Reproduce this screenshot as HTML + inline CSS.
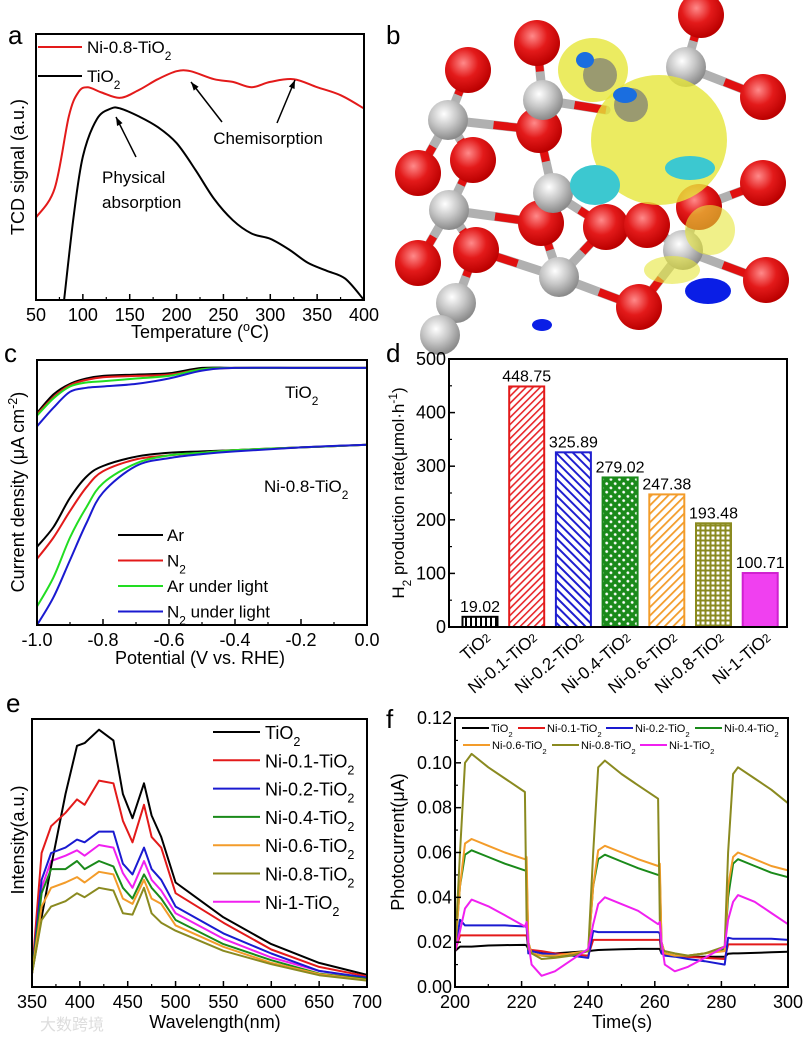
<!DOCTYPE html>
<html><head><meta charset="utf-8"><style>
html,body{margin:0;padding:0;background:#fff}
svg{display:block;font-family:"Liberation Sans","Noto Sans CJK SC",sans-serif}
</style></head><body>
<svg id="fig" width="812" height="1041" viewBox="0 0 812 1041" xmlns="http://www.w3.org/2000/svg">
<defs>
<pattern id="pBlack" width="5" height="10" patternUnits="userSpaceOnUse"><rect width="5" height="10" fill="#fff"/><rect width="2" height="10" fill="#000"/></pattern>
<pattern id="pRed" width="5" height="5" patternUnits="userSpaceOnUse" patternTransform="rotate(45)"><rect width="5" height="5" fill="#fff"/><rect width="1.6" height="5" fill="#e8262a"/></pattern>
<pattern id="pBlue" width="6" height="6" patternUnits="userSpaceOnUse" patternTransform="rotate(-45)"><rect width="6" height="6" fill="#fff"/><rect width="2" height="6" fill="#1f1fd0"/></pattern>
<pattern id="pGreen" width="6" height="6" patternUnits="userSpaceOnUse" patternTransform="rotate(45)"><rect width="6" height="6" fill="#1a8a1a"/><circle cx="3" cy="3" r="1.4" fill="#fff"/></pattern>
<pattern id="pOrange" width="6" height="6" patternUnits="userSpaceOnUse" patternTransform="rotate(45)"><rect width="6" height="6" fill="#fff"/><rect width="1.8" height="6" fill="#f39c2a"/></pattern>
<pattern id="pOlive" width="5" height="5" patternUnits="userSpaceOnUse"><rect width="5" height="5" fill="#8a8a20"/><rect x="1.5" y="1.5" width="3" height="3" fill="#fff"/></pattern>
<radialGradient id="gO" cx="40%" cy="35%" r="65%"><stop offset="0" stop-color="#ff8a8a"/><stop offset="0.5" stop-color="#e31a1a"/><stop offset="1" stop-color="#b00"/></radialGradient>
<radialGradient id="gTi" cx="40%" cy="35%" r="65%"><stop offset="0" stop-color="#fff"/><stop offset="0.5" stop-color="#c8c8c8"/><stop offset="1" stop-color="#8a8a8a"/></radialGradient>
</defs>
<g id="panelB"></g>
<g id="root"></g>
</svg>
<script>
// ---------- data ----------
const aTempRed = [50,70,85,95,105,120,140,160,180,200,215,240,260,280,300,325,350,375,400];
const aValRed  = [31,42,69,78,80,78,76,79,83,86,86,83,82,80,82,83,80,77,72];
const aTempBlk = [80,90,100,115,130,140,160,180,200,220,240,260,280,300,320,340,360,380,400];
const aValBlk  = [0,31,54,68,72,72,69,65,59,49,38,30,25,23,19,14,11,8,0];

const cPot = [-1,-0.95,-0.9,-0.85,-0.8,-0.7,-0.6,-0.5,-0.4,-0.2,0];
const cTiAr   = [80,87,91,93,94,94.5,95,97,97,97,97];
const cTiN2   = [79.5,86,90.5,92.5,93.5,94,94.5,96.5,97,97,97];
const cTiArL  = [79,85.5,90,91.5,92,93,94,96.5,97,97,97];
const cTiN2L  = [75,82,88,89.5,90,91,93,96,97,97,97];
const cNiAr   = [29.5,37,48,56,60,63.5,65,65.5,66,67,68];
const cNiN2   = [25,33,43,52,58,62.5,64,65,66,67,68];
const cNiArL  = [7,18,33,44.5,53.5,61,64,65,66,67,68];
const cNiN2L  = [0,10.5,24.5,38.5,50,60,63,64.5,65.5,67,68];

const dCats = ["TiO2","Ni-0.1-TiO2","Ni-0.2-TiO2","Ni-0.4-TiO2","Ni-0.6-TiO2","Ni-0.8-TiO2","Ni-1-TiO2"];
const dVals = [19.02,448.75,325.89,279.02,247.38,193.48,100.71];
const dTicks = [0,100,200,300,400,500];

const eWl = [350,360,370,385,397,405,420,435,445,455,467,475,485,500,550,600,650,700];
const eTi  = [5,26,45,72,90,91,96,92,72,63,76,64,56,39,26,16,9,4.5];
const e01  = [5,50,60,65,70,68,77,76,62,54,68,56,52,35,24,14,7.5,4];
const e02  = [5,40,50,52,55,54,58,58,46,42,52,44,40,30,20,12.5,6,3.5];
const e04  = [5,35,44,44,47,44,47,45,37,33,42,37,33,25,16,10,5,3];
const e06  = [5,30,37,39,41,39,43,42,33,31,40,33,31,23,15,9,4.8,2.6];
const e08  = [5,25,30,32,35,33.5,37,36,27.5,27,37,27.5,24,21,13.5,8.5,4.4,2.4];
const e1   = [5,37,47,49,51,49,53,52,42.5,37,47,40,36,27.5,18,11,6,3.3];

const fT = [200,201.5,203,205,210,215,221,221.5,222,223,226,230,235,240,241.5,243,245,250,255,261,261.5,262,263,266,270,275,281,282,283.5,285,290,295,300];
const fTi = [0.016,0.018,0.018,0.018,0.0185,0.0187,0.0188,0.0185,0.017,0.016,0.0155,0.015,0.0155,0.016,0.0163,0.0165,0.0166,0.0168,0.017,0.017,0.017,0.015,0.0145,0.014,0.0135,0.0135,0.0135,0.0148,0.015,0.015,0.0152,0.0155,0.0157];
const f01 = [0.016,0.023,0.023,0.023,0.023,0.023,0.023,0.023,0.017,0.0165,0.016,0.015,0.0145,0.014,0.021,0.021,0.021,0.021,0.021,0.021,0.021,0.015,0.0145,0.014,0.0135,0.013,0.0125,0.019,0.019,0.019,0.019,0.019,0.019];
const f02 = [0.016,0.03,0.0275,0.0275,0.0275,0.0275,0.027,0.027,0.015,0.016,0.015,0.0145,0.014,0.013,0.025,0.0245,0.0245,0.0245,0.0245,0.0245,0.024,0.015,0.014,0.0135,0.0125,0.0115,0.010,0.022,0.0215,0.0215,0.0215,0.0215,0.021];
const f04 = [0.016,0.045,0.059,0.061,0.058,0.055,0.052,0.052,0.02,0.015,0.014,0.0135,0.015,0.016,0.045,0.057,0.059,0.056,0.053,0.050,0.05,0.02,0.015,0.014,0.014,0.015,0.017,0.04,0.055,0.057,0.054,0.051,0.049];
const f06 = [0.016,0.045,0.064,0.066,0.063,0.060,0.057,0.058,0.02,0.015,0.014,0.014,0.015,0.016,0.045,0.061,0.063,0.060,0.057,0.054,0.055,0.02,0.015,0.014,0.014,0.015,0.016,0.045,0.058,0.060,0.057,0.054,0.052];
const f08 = [0.016,0.06,0.100,0.104,0.098,0.093,0.087,0.03,0.017,0.015,0.0125,0.013,0.014,0.016,0.06,0.098,0.101,0.095,0.090,0.084,0.03,0.017,0.016,0.015,0.014,0.015,0.018,0.06,0.095,0.098,0.093,0.088,0.082];
const f1  = [0.016,0.025,0.035,0.039,0.036,0.032,0.027,0.029,0.02,0.01,0.005,0.007,0.012,0.017,0.028,0.037,0.040,0.037,0.034,0.028,0.029,0.02,0.01,0.007,0.009,0.013,0.018,0.03,0.038,0.041,0.038,0.033,0.028];
const fTicks = [0,0.02,0.04,0.06,0.08,0.10,0.12];

// ---------- helpers ----------
const NS="http://www.w3.org/2000/svg";
const root=document.getElementById('root');
function el(tag,attrs,parent,text){const e=document.createElementNS(NS,tag);for(const k in attrs)e.setAttribute(k,attrs[k]);if(text!==undefined)e.innerHTML=text;(parent||root).appendChild(e);return e;}
function lin(d0,d1,r0,r1){return v=>r0+(v-d0)/(d1-d0)*(r1-r0);}
function grp(name){const g=el('g',{});return g;}
function line(g,xs,ys,X,Y,color,name,smooth){
  const P=xs.map((x,i)=>[X(x),Y(ys[i])]);
  let d='M'+P[0][0].toFixed(1)+','+P[0][1].toFixed(1);
  for(let i=1;i<P.length;i++){
    if(smooth){const p0=P[Math.max(0,i-2)],p1=P[i-1],p2=P[i],p3=P[Math.min(P.length-1,i+1)];
      const c1=[p1[0]+(p2[0]-p0[0])/6,p1[1]+(p2[1]-p0[1])/6],c2=[p2[0]-(p3[0]-p1[0])/6,p2[1]-(p3[1]-p1[1])/6];
      d+='C'+c1[0].toFixed(1)+','+c1[1].toFixed(1)+' '+c2[0].toFixed(1)+','+c2[1].toFixed(1)+' '+p2[0].toFixed(1)+','+p2[1].toFixed(1);}
    else d+='L'+P[i][0].toFixed(1)+','+P[i][1].toFixed(1);
  }
  const p=el('path',{d:d,fill:'none',stroke:color,'stroke-width':2,'stroke-linejoin':'round'},g);
  
  
  return p;
}
function frame(g,x0,y0,x1,y1){el('rect',{x:x0,y:y0,width:x1-x0,height:y1-y0,fill:'none',stroke:'#000','stroke-width':2},g);}
function xticks(g,ticks,X,yb,minor,labels,fs){
  ticks.forEach((t,i)=>{const x=X(t);el('line',{x1:x,x2:x,y1:yb,y2:yb-6,stroke:'#000','stroke-width':1.5},g);
    if(labels){const tx=el('text',{x:x,y:yb+21,'text-anchor':'middle','font-size':fs||18},g,labels[i]);}
    if(minor&&i<ticks.length-1){const m=X((t+ticks[i+1])/2);el('line',{x1:m,x2:m,y1:yb,y2:yb-3,stroke:'#000','stroke-width':1.2},g);}});
}
function yticks(g,ticks,Y,xl,labels,fs){
  ticks.forEach((t,i)=>{const y=Y(t);el('line',{x1:xl,x2:xl+6,y1:y,y2:y,stroke:'#000','stroke-width':1.5},g);
    const tx=el('text',{x:xl-3,y:y+6,'text-anchor':'end','font-size':fs||18},g,labels[i]);
    if(i<ticks.length-1){const m=Y((t+ticks[i+1])/2);el('line',{x1:xl,x2:xl+3,y1:m,y2:m,stroke:'#000','stroke-width':1.2},g);}});
}
function txt(g,x,y,s,fs,name,extra){const a=Object.assign({x:x,y:y,'font-size':fs},extra||{});const t=el('text',a,g,s);return t;}
function vtitle(g,x,y,s,fs,name){return txt(g,0,0,s,fs,name,{transform:`translate(${x},${y}) rotate(-90)`,'text-anchor':'middle'});}
const sub=s=>`<tspan baseline-shift="sub" font-size="0.7em">${s}</tspan>`;
const sup=s=>`<tspan baseline-shift="super" font-size="0.7em">${s}</tspan>`;

// ---------- panel a ----------
{const g=grp('panel-a');
 const X=lin(50,400,36,364),Y=lin(0,100,300,34);
 line(g,aTempRed,aValRed,X,Y,'#e31a1a','series-ni-0.8-tio2',true);
 line(g,aTempBlk,aValBlk,X,Y,'#000','series-tio2',true);
 frame(g,36,34,364,300);
 xticks(g,[50,100,150,200,250,300,350,400],X,300,true,['50','100','150','200','250','300','350','400'],18);
 txt(g,200,338,'Temperature ('+sup('o')+'C)',18,'x-axis-title',{'text-anchor':'middle'});
 vtitle(g,24,167,'TCD signal (a.u.)',18,'y-axis-title');
 txt(g,8,44,'a',26,'panel-label');
 el('line',{x1:38,x2:82,y1:47,y2:47,stroke:'#e31a1a','stroke-width':2},g);
 txt(g,87,53,'Ni-0.8-TiO'+sub('2'),17,'legend-entry-ni-0.8');
 el('line',{x1:38,x2:82,y1:76,y2:76,stroke:'#000','stroke-width':2},g);
 txt(g,87,82,'TiO'+sub('2'),17,'legend-entry-tio2');
 txt(g,268,144,'Chemisorption',17,'annotation-chemisorption',{'text-anchor':'middle'});
 txt(g,102,183,'Physical',17,'annotation-physical');
 txt(g,102,208,'absorption',17,'annotation-absorption');
 [[222,122,191,82],[277,123,295,80],[136,157,116,117]].forEach(a=>{
   const l=el('line',{x1:a[0],y1:a[1],x2:a[2],y2:a[3],stroke:'#000','stroke-width':1.5},g);
   const ang=Math.atan2(a[3]-a[1],a[2]-a[0]),s=9;
   el('polygon',{points:`${a[2]},${a[3]} ${a[2]-s*Math.cos(ang-0.35)},${a[3]-s*Math.sin(ang-0.35)} ${a[2]-s*Math.cos(ang+0.35)},${a[3]-s*Math.sin(ang+0.35)}`,fill:'#000'},g);
 });
}

// ---------- panel b (structure illustration) ----------
{const g=document.getElementById('panelB');
 const O=[[701,15],[537,43],[468,70],[539,130],[473,160],[541,223],[476,250],[606,227],[763,97],[763,183],[699,207],[766,280],[639,307],[418,173],[418,263],[647,225]];
 const T=[[448,120],[543,100],[449,210],[553,193],[559,277],[456,303],[686,67],[683,250],[440,335]];
 const B=[[448,120,468,70],[448,120,539,130],[448,120,473,160],[448,120,418,173],[543,100,537,43],[543,100,539,130],[543,100,606,110],[449,210,473,160],[449,210,476,250],[449,210,418,263],[449,210,541,223],[553,193,539,130],[553,193,541,223],[553,193,606,227],[559,277,476,250],[559,277,541,223],[559,277,639,307],[559,277,606,227],[456,303,476,250],[456,303,430,340],[686,67,701,15],[686,67,763,97],[683,250,763,280],[683,250,699,207],[683,250,639,307],[683,250,647,225],[699,207,763,183]];
 B.forEach(b=>{el('line',{x1:b[0],y1:b[1],x2:b[2],y2:b[3],stroke:'#b0b0b0','stroke-width':9,'stroke-linecap':'round'},g);
   el('line',{x1:(b[0]+b[2])/2,y1:(b[1]+b[3])/2,x2:b[2],y2:b[3],stroke:'#e01010','stroke-width':8},g);});
 O.forEach(o=>el('circle',{cx:o[0],cy:o[1],r:23,fill:'url(#gO)'},g));
 T.forEach(t=>el('circle',{cx:t[0],cy:t[1],r:20,fill:'url(#gTi)'},g));
 el('ellipse',{cx:659,cy:140,rx:68,ry:65,fill:'#e6e63a','fill-opacity':0.8},g);
 el('ellipse',{cx:593,cy:70,rx:35,ry:32,fill:'#e6e63a','fill-opacity':0.8},g);
 el('ellipse',{cx:710,cy:230,rx:25,ry:25,fill:'#e6e63a','fill-opacity':0.6},g);
 el('ellipse',{cx:672,cy:270,rx:28,ry:14,fill:'#e6e63a','fill-opacity':0.6},g);
 el('ellipse',{cx:595,cy:185,rx:25,ry:20,fill:'#3cc8d0'},g);
 el('ellipse',{cx:690,cy:168,rx:25,ry:12,fill:'#3cc8d0'},g);
 el('circle',{cx:600,cy:75,r:17,fill:'#9a9a70'},g);
 el('circle',{cx:631,cy:105,r:17,fill:'#9a9a70'},g);
 el('ellipse',{cx:585,cy:60,rx:9,ry:8,fill:'#1a6ee0'},g);
 el('ellipse',{cx:625,cy:95,rx:12,ry:8,fill:'#1a6ee0'},g);
 el('ellipse',{cx:708,cy:291,rx:23,ry:13,fill:'#0a1ee6'},g);
 el('ellipse',{cx:542,cy:325,rx:10,ry:6,fill:'#0a1ee6'},g);
 txt(g,386,44,'b',26,'panel-label');
}

// ---------- panel c ----------
{const g=grp('panel-c');
 const X=lin(-1,0,37,367),Y=lin(0,100,625,360);
 const cols=['#000','#e31a1a','#22dd22','#1a1ad0'];
 [cTiAr,cTiN2,cTiArL,cTiN2L].forEach((s,i)=>line(g,cPot,s,X,Y,cols[i],'tio2-curve-'+i,true));
 [cNiAr,cNiN2,cNiArL,cNiN2L].forEach((s,i)=>line(g,cPot,s,X,Y,cols[i],'ni-curve-'+i,true));
 frame(g,37,360,367,625);
 xticks(g,[-1,-0.8,-0.6,-0.4,-0.2,0],X,625,true,['-1.0','-0.8','-0.6','-0.4','-0.2','0.0'],18);
 txt(g,200,664,'Potential (V vs. RHE)',18,'x-axis-title',{'text-anchor':'middle'});
 vtitle(g,24,492,'Current density (μA cm'+sup('-2')+')',18,'y-axis-title');
 txt(g,4,362,'c',26,'panel-label');
 txt(g,285,398,'TiO'+sub('2'),17,'label-tio2');
 txt(g,264,492,'Ni-0.8-TiO'+sub('2'),17,'label-ni-0.8-tio2');
 const ln=['Ar','N'+sub('2'),'Ar under light','N'+sub('2')+' under light'];
 ln.forEach((s,i)=>{const y=535+i*25.5;el('line',{x1:118,x2:163,y1:y,y2:y,stroke:cols[i],'stroke-width':2},g);txt(g,167,y+6,s,17,'legend-entry');});
}

// ---------- panel d ----------
{const g=grp('panel-d');
 const Y=lin(0,500,627,359);const cx=i=>480+i*46.7;const w=35;
 const fills=['url(#pBlack)','url(#pRed)','url(#pBlue)','url(#pGreen)','url(#pOrange)','url(#pOlive)','#f040f0'];
 const strokes=['#000','#e31a1a','#1f1fd0','#1a8a1a','#f39c2a','#8a8a20','#d020d0'];
 dVals.forEach((v,i)=>{
   const r=el('rect',{x:cx(i)-w/2,y:Y(v),width:w,height:Y(0)-Y(v),fill:fills[i],stroke:strokes[i],'stroke-width':2},g);
   
   
   txt(g,cx(i),Y(v)-5,v.toFixed(2),16,'bar-value',{'text-anchor':'middle'});
   const lab=dCats[i].replace(/TiO2$/,'TiO<tspan font-size="12" dy="-1">2</tspan>');
   txt(g,0,0,lab,17,'x-tick-label',{transform:`translate(${cx(i)+12},${640}) rotate(-40)`,'text-anchor':'end'});
 });
 frame(g,449,359,787,627);
 yticks(g,dTicks,Y,449,dTicks.map(String),18);
 vtitle(g,404,493,'H'+sub('2')+' production rate(μmol·h'+sup('-1')+')',17,'y-axis-title');
 txt(g,386,362,'d',26,'panel-label');
}

// ---------- panel e ----------
{const g=grp('panel-e');
 const X=lin(350,700,32,367),Y=lin(0,100,987,719);
 const series=[eTi,e01,e02,e04,e06,e08,e1];
 const cols=['#000','#e31a1a','#1a1ad0','#1a8a1a','#f39c2a','#8a8a20','#f020f0'];
 const names=['TiO2','Ni-0.1-TiO2','Ni-0.2-TiO2','Ni-0.4-TiO2','Ni-0.6-TiO2','Ni-0.8-TiO2','Ni-1-TiO2'];
 [6,0,1,2,3,4,5].forEach(i=>line(g,eWl,series[i],X,Y,cols[i],'series-'+names[i].toLowerCase()));
 frame(g,32,719,367,987);
 xticks(g,[350,400,450,500,550,600,650,700],X,987,true,['350','400','450','500','550','600','650','700'],18);
 txt(g,215,1028,'Wavelength(nm)',18,'x-axis-title',{'text-anchor':'middle'});
 vtitle(g,24,840,'Intensity(a.u.)',18,'y-axis-title');
 txt(g,6,712,'e',26,'panel-label');
 names.forEach((n,i)=>{const y=732+i*28.3;el('line',{x1:213,x2:260,y1:y,y2:y,stroke:cols[i],'stroke-width':2},g);txt(g,265,y+7,n.replace(/TiO2$/,'TiO'+sub('2')),18,'legend-entry');});
 txt(g,40,1030,'大数跨境',16,'watermark',{fill:'#ddd'});
}

// ---------- panel f ----------
{const g=grp('panel-f');
 const X=lin(200,300,455,788),Y=lin(0,0.12,987,718);
 const series=[fTi,f01,f02,f04,f06,f08,f1];
 const cols=['#000','#e31a1a','#1a1ad0','#1a8a1a','#f39c2a','#8a8a20','#f020f0'];
 const names=['TiO2','Ni-0.1-TiO2','Ni-0.2-TiO2','Ni-0.4-TiO2','Ni-0.6-TiO2','Ni-0.8-TiO2','Ni-1-TiO2'];
 series.forEach((s,i)=>line(g,fT,s,X,Y,cols[i],'series-'+names[i].toLowerCase()));
 frame(g,455,718,788,987);
 xticks(g,[200,220,240,260,280,300],X,987,true,['200','220','240','260','280','300'],18);
 yticks(g,fTicks,Y,455,fTicks.map(v=>v.toFixed(2)),18);
 txt(g,622,1028,'Time(s)',18,'x-axis-title',{'text-anchor':'middle'});
 vtitle(g,404,842,'Photocurrent(μA)',18,'y-axis-title');
 txt(g,386,728,'f',26,'panel-label');
 const lg=[[462,728],[518,728],[606,728],[695,728],[463,745],[552,745],[640,745]];
 names.forEach((n,i)=>{const p=lg[i];el('line',{x1:p[0],x2:p[0]+27,y1:p[1],y2:p[1],stroke:cols[i],'stroke-width':2},g);txt(g,p[0]+29,p[1]+4,n.replace(/TiO2$/,'TiO'+sub('2')),11,'legend-entry');});
}
</script>
</body></html>
